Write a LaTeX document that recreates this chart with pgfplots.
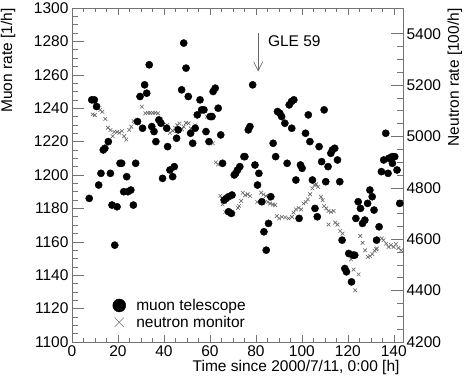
\documentclass[border=0pt]{standalone}
\usepackage{fontspec}
\setmainfont{Liberation Sans}
\usepackage{pgfplots}
\pgfplotsset{compat=1.18}
\usetikzlibrary{arrows.meta}
\newcommand{\fsz}{\fontsize{15.5}{18}\selectfont}

\begin{document}
\begin{tikzpicture}
\pgfplotsset{
  frame/.style={
    scale only axis, width=331pt, height=334pt,
    at={(0pt,0pt)}, anchor=south west,
    xmin=0, xmax=144,
    axis line style={black!55, line width=0.6pt},
    tick style={black!55, line width=0.6pt},
    tick label style={font=\fsz},
    label style={font=\fsz},
    /pgf/number format/assume math mode=true,
    /pgf/number format/1000 sep={},
    scaled ticks=false,
  },
}
% neutron monitor (right axis)
\begin{axis}[frame, hide x axis,
    ymin=4200, ymax=5500, ytick={4200,4400,...,5400}, minor y tick num=3,
    ytick pos=right, yticklabel pos=right,
    major tick length=12pt, minor tick length=6pt,
    ylabel={Neutron rate [100/h]},
    every axis y label/.style={at={(axis description cs:1.157,1.009)}, rotate=90, anchor=east, font=\fsz}]
\addplot[only marks, mark=x, mark size=2.6pt, draw=black!60, line width=0.6pt] coordinates {
(9.0,5086)(9.9,5083)(12.3,5103)(13.2,5096)(14.5,5068)(15.6,5034)(16.7,5025)(17.7,5001)
(18.4,5018)(19.6,5018)(20.6,5014)(21.7,5021)(22.7,5001)(23.6,4988)(24.9,5025)(25.8,5038)
(26.8,5060)(27.5,5057)(30.4,5116)(31.9,5090)(33.0,5092)(34.0,5092)(35.1,5092)(36.2,5092)
(37.4,5090)(38.7,5066)(40.4,5038)(41.4,5044)(42.6,5014)(43.8,5022)(44.8,5034)(45.8,5044)
(46.7,5051)(47.8,5028)(48.6,5038)(49.6,5053)(50.7,5051)(51.7,5031)(53.6,5043)(58.7,5077)
(59.4,5077)(61.3,4973)(62.6,4899)(63.5,4891)(64.5,4769)(65.2,4759)(65.5,4736)(66.4,4745)
(66.7,4706)(67.8,4704)(70.3,4697)(72.2,4722)(72.7,4730)(73.6,4749)(74.3,4781)(75.3,4771)
(76.4,4775)(77.5,4768)(80.6,4745)(82.3,4781)(83.3,4774)(84.3,4768)(85.2,4745)(86.2,4739)
(87.4,4735)(88.4,4733)(89.1,4690)(90.1,4681)(91.3,4687)(92.7,4685)(94.2,4681)(95.7,4687)
(96.4,4704)(97.4,4716)(98.6,4722)(99.7,4716)(100.7,4739)(101.7,4745)(102.6,4755)(103.6,4775)
(104.6,4798)(105.5,4811)(106.2,4814)(107.0,4804)(108.3,4765)(109.0,4752)(109.7,4729)(110.6,4720)
(111.6,4710)(111.6,4657)(112.7,4706)(113.8,4710)(114.5,4665)(115.5,4657)(116.7,4632)(117.7,4622)
(120.0,4548)(120.6,4538)(121.4,4522)(122.5,4482)(123.2,4401)(124.7,4463)(125.4,4613)(126.4,4586)
(127.5,4557)(128.7,4531)(129.7,4534)(130.7,4542)(131.6,4555)(132.3,4561)(132.7,4564)(134.8,4603)
(135.5,4596)(136.7,4583)(137.7,4570)(138.7,4577)(139.9,4570)(140.9,4581)(142.0,4566)(143.2,4557)
};
\end{axis}
% frame with x ticks
\begin{axis}[frame, ymin=1100, ymax=1300, ytick=\empty,
    xtick={0,20,...,140}, minor x tick num=3, xtick pos=both,
    major tick length=7pt, minor tick length=4pt,
    xlabel={Time since 2000/7/11, 0:00 [h]},
    every axis x label/.style={at={(axis description cs:1,0)}, anchor=east, yshift=-25pt, font=\fsz}]
\end{axis}
% muon telescope (left axis)
\begin{axis}[frame, hide x axis,
    ymin=1100, ymax=1300, ytick={1100,1120,...,1300}, minor y tick num=3,
    ytick pos=left, major tick length=12pt, minor tick length=6pt,
    ylabel={Muon rate [1/h]},
    every axis y label/.style={at={(axis description cs:-0.193,1.009)}, rotate=90, anchor=east, font=\fsz},
    legend cell align=left,
    legend style={at={(axis description cs:0.115,0.135)}, anchor=north west, draw=none, fill=none,
        inner sep=0pt, row sep=0pt, font=\fsz},
    legend image code/.code={\path[draw=none] (0pt,0pt) (24pt,0pt); \path[#1, draw=none] plot[only marks] coordinates {(9pt,0pt)};}]
\addplot[only marks, mark=*, mark size=3.6pt, black, forget plot] coordinates {
(7.5,1186)(8.6,1245)(9.7,1245)(10.7,1241)(11.6,1194)(12.6,1201)(13.6,1215)(14.3,1216)
(15.8,1220)(16.7,1201)(17.4,1182)(18.6,1158)(19.6,1181)(20.9,1207)(21.6,1207)(22.5,1190)
(23.8,1199)(24.3,1190)(25.6,1191)(26.7,1182)(27.7,1207)(28.5,1232)(29.6,1247)(30.7,1228)
(31.6,1254)(32.5,1249)(33.6,1266)(34.7,1229)(35.7,1226)(36.5,1220)(37.8,1233)(38.7,1231)
(39.4,1198)(41.2,1228)(41.6,1217)(42.6,1203)(43.8,1199)(44.5,1205)(45.5,1222)(46.2,1227)
(47.7,1251)(48.6,1279)(49.6,1264)(50.6,1247)(51.6,1225)(52.5,1219)(53.6,1228)(54.5,1236)
(55.7,1245)(56.4,1239)(57.4,1239)(58.3,1226)(59.6,1220)(60.1,1235)(60.9,1235)(61.4,1250)
(62.3,1252)(63.6,1240)(64.7,1224)(65.5,1207)(66.2,1185)(67.1,1186)(68.1,1187)(69.6,1188)
(68.1,1178)(69.3,1177)(70.6,1200)(71.2,1201)(72.0,1203)(73.0,1205)(74.8,1211)(75.2,1211)
(76.7,1227)(77.4,1229)(78.6,1254)(79.6,1206)(80.7,1194)(81.3,1201)(82.6,1184)(83.5,1166)
(84.5,1155)(85.5,1171)(86.5,1187)(87.5,1219)(88.6,1211)(89.4,1238)(90.4,1237)(91.2,1235)
(92.6,1231)(93.6,1207)(94.5,1242)(95.5,1244)(95.6,1228)(96.5,1245)(97.4,1197)(98.8,1174)
(99.4,1206)(100.1,1204)(101.6,1225)(102.8,1236)(103.5,1220)(104.6,1197)(105.7,1180)(106.7,1175)
(107.5,1217)(108.6,1208)(109.7,1239)(110.4,1196)(111.4,1205)(112.6,1213)(113.3,1215)(114.3,1216)
(115.5,1209)(116.5,1196)(117.5,1161)(118.7,1144)(119.4,1142)(120.4,1153)(121.6,1136)(122.3,1152)
(123.0,1152)(123.5,1174)(124.5,1184)(125.5,1180)(126.4,1171)(127.4,1173)(128.6,1183)(129.6,1191)
(130.6,1187)(131.4,1179)(132.5,1161)(133.6,1169)(134.6,1202)(135.6,1209)(136.5,1225)(137.5,1201)
(137.8,1210)(139.3,1211)(139.4,1207)(140.4,1211)(141.4,1203)(142.6,1183)
};
\addlegendimage{only marks, mark=*, mark size=6.5pt, black}
\addlegendentry{muon telescope}
\addlegendimage{only marks, mark=x, mark size=6.5pt, draw=black!55, line width=0.5pt}
\addlegendentry{neutron monitor}
\draw[black!60, line width=0.6pt, -{Straight Barb[length=9pt,width=9pt]}] (axis cs:81,1285) -- (axis cs:81,1262);
\node[anchor=west, inner sep=0pt, font=\fsz] at (axis cs:85.2,1280) {GLE 59};
\end{axis}
\pgfresetboundingbox
\path[use as bounding box] (-72pt,-42pt) rectangle (397pt,342pt);
\end{tikzpicture}
\end{document}
